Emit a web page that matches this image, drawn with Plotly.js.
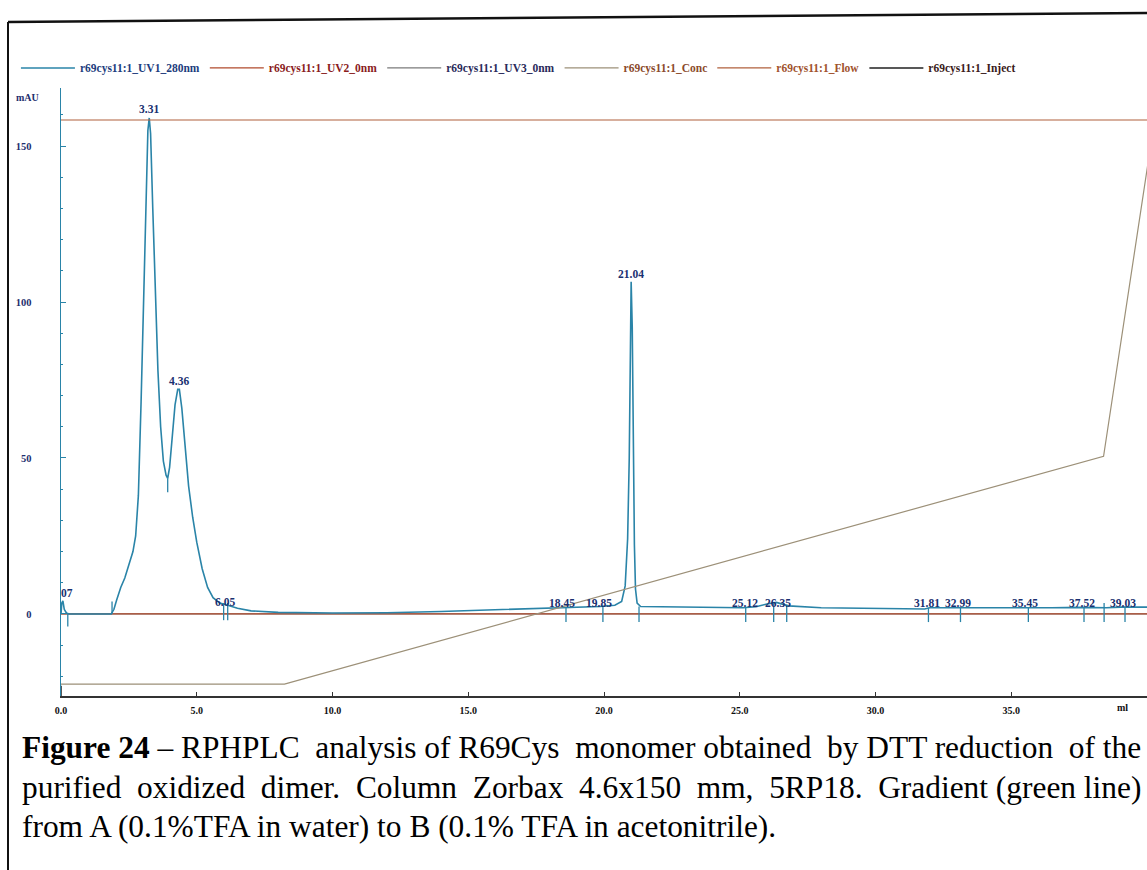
<!DOCTYPE html>
<html>
<head>
<meta charset="utf-8">
<script src="https://cdn.plot.ly/plotly-3.0.1.min.js"></script>
<style>
html,body{margin:0;padding:0;background:#fff;}
#chart{width:1147px;height:870px;}
</style>
</head>
<body>
<div id="chart"></div>
<script>
// ---- Data ----
// UV1 280 nm trace (ml, mAU)
const uvX = [0,0.03,0.07,0.12,0.2,0.3,1.85,1.95,2.05,2.2,2.35,2.5,2.65,2.75,2.85,2.95,3.05,3.13,3.2,3.25,3.3,3.38,3.47,3.57,3.67,3.77,3.87,3.93,4.0,4.1,4.2,4.3,4.36,4.45,4.55,4.7,4.85,5.0,5.2,5.4,5.6,5.85,6.05,6.5,7,8,10,12,14,16,17.5,18.45,19.2,19.85,20.4,20.65,20.78,20.87,20.93,20.97,21.0,21.04,21.08,21.12,21.16,21.22,21.35,23,25.12,25.6,26.0,26.35,26.8,28,31.81,32.0,32.99,33.5,35.45,36.5,37.52,38.5,39.03,40];
const uvY = [0,3.5,4.2,1.5,0.3,0,0,1.5,4.5,8.5,11.5,16,20,25,38,68,103,135,155,159,154,130,102,78,60,49,44.5,43.5,47,57,67,72,72,66,56,41,31,23,14.5,8.5,5.2,3.5,3,1.8,1.0,0.5,0.3,0.4,0.8,1.3,1.7,1.9,2.1,2.4,2.8,4,9,24,50,85,106.5,92,55,22,8,3.5,2.4,2.2,2.0,2.3,3.2,3.7,2.6,2.0,1.6,2.0,2.0,1.8,2.0,2.0,2.1,2.0,2.2,2.2];

// Integration / peak boundary marks (ml, top mAU, bottom mAU)
const markX   = [0.25,1.88,3.93,5.99,6.14,18.6,19.96,21.29,25.22,26.25,26.73,31.95,33.13,35.63,37.68,38.42,39.19];
const markTop = [0,4,43.5,3.5,3.5,2.2,2.6,2.4,2.2,3.8,2.8,2.0,2.2,2.2,2.2,3.5,2.4];
const markBot = [-4,0,39,-2,-2,-2.6,-2.6,-2.6,-2.6,-2.6,-2.6,-2.6,-2.6,-2.6,-2.6,-2.6,-2.6];

// Peak labels
const peakText = ['07','3.31','4.36','6.05','18.45','19.85','21.04','25.12','26.35','31.81','32.99','35.45','37.52','39.03'];
const peakX    = [0.22,3.25,4.36,6.05,18.45,19.8,21.0,25.2,26.4,31.9,33.05,35.5,37.6,39.1];
const peakY    = [6.7,161.8,74.7,3.8,3.5,3.5,108.9,3.5,3.5,3.5,3.5,3.5,3.5,3.5];

// UV2 / UV3 (0 nm, flat)
const uv2X = [0,40], uv2Y = [0,0];
const uv3X = [0,40], uv3Y = [0,0];
// Concentration of B (%)
const concX = [0,8.23,38.4,40.39];
const concY = [0,0,39,100];
// Flow (ml/min)
const flowX = [0,40], flowY = [1.0,1.0];
// Injection mark
const injX = [0,0], injY = [-26.3,-23];

// Axis ticks
const xTicks = [0,5,10,15,20,25,30,35];
const xTickText = ['0.0','5.0','10.0','15.0','20.0','25.0','30.0','35.0'];
const yTicks = [0,50,100,150];

const legendNames = ['r69cys11:1_UV1_280nm','r69cys11:1_UV2_0nm','r69cys11:1_UV3_0nm','r69cys11:1_Conc','r69cys11:1_Flow','r69cys11:1_Inject'];

// ---- Styles ----
const C = {
  uv1:'#2a84a8', uv2:'#b04a2c', uv3:'#7a7a7a', conc:'#9c9078', flow:'#b0603c', inj:'#202020',
  t1:'#1d3d7d', t2:'#8a1c1c', t3:'#2a2a5a', t4:'#8b4a2b', t5:'#a0522d', t6:'#3a1a1a'
};
const lab = (t,c)=>'<span style="color:'+c+'">'+t+'</span>';

// mark segments from arrays
const mX=[], mY=[];
markX.forEach((x,i)=>{ mX.push(x,x,null); mY.push(markTop[i],markBot[i],null); });

const traces = [
  {x:concX,y:concY,yaxis:'y2',mode:'lines',line:{color:C.conc,width:1.2},name:lab(legendNames[3],C.t4),legendrank:4},
  {x:flowX,y:flowY,yaxis:'y3',mode:'lines',line:{color:C.flow,width:1.2},name:lab(legendNames[4],C.t5),legendrank:5},
  {x:uv3X,y:uv3Y,mode:'lines',line:{color:C.uv3,width:1.2},name:lab(legendNames[2],C.t3),legendrank:3},
  {x:uv2X,y:uv2Y,mode:'lines',line:{color:C.uv2,width:1.3},name:lab(legendNames[1],C.t2),legendrank:2},
  {x:uvX,y:uvY,mode:'lines',line:{color:C.uv1,width:1.6},name:lab(legendNames[0],C.t1),legendrank:1},
  {x:mX,y:mY,mode:'lines',line:{color:C.uv1,width:1.3},showlegend:false,hoverinfo:'skip'},
  {x:injX,y:injY,mode:'lines',line:{color:C.inj,width:1.5},name:lab(legendNames[5],C.t6),legendrank:6}
];

const annotations = peakText.map((t,i)=>({
  x:peakX[i], y:peakY[i], xref:'x', yref:'y', text:t, showarrow:false,
  font:{family:'Liberation Serif',size:11.5,color:'#1a3070',weight:'bold'}, xanchor:'center', yanchor:'middle'
}));
annotations.push({x:-0.0313,y:0.9836,xref:'paper',yref:'paper',text:'mAU',showarrow:false,
  font:{family:'Liberation Serif',size:10,color:'#1e2f6e',weight:'bold'},xanchor:'center',yanchor:'middle'});
annotations.push({x:39.1,y:-0.0197,xref:'x',yref:'paper',text:'ml',showarrow:false,
  font:{family:'Liberation Serif',size:10,color:'#111',weight:'bold'},xanchor:'center',yanchor:'middle'});

const S = '\u00a0';
const capLines = [
  '<b>Figure 24</b> – RPHPLC'+S+' analysis of R69Cys'+S+' monomer obtained'+S+' by DTT reduction'+S+' of the',
  'purified'+S+' oxidized'+S+' dimer.'+S+' Column'+S+' Zorbax'+S+' 4.6x150'+S+' mm,'+S+' 5RP18.'+S+' Gradient (green line)',
  'from A (0.1%TFA in water) to B (0.1% TFA in acetonitrile).'
];
const capY = [747,787,826];
capLines.forEach((t,i)=>annotations.push({
  x:(20-61)/1086, y:(696-capY[i])/608, xref:'paper', yref:'paper', text:t, showarrow:false,
  xanchor:'left', yanchor:'middle', align:'left',
  font:{family:'Liberation Serif',size:31.4,color:'#000'}
}));

const shapes = [
  {type:'line',xref:'paper',yref:'paper',x0:(8-61)/1086,y0:(696-22)/608,x1:(1147-61)/1086,y1:(696-13)/608,line:{color:'#111',width:2.5}},
  {type:'line',xref:'paper',yref:'paper',x0:(8-61)/1086,y0:(696-22)/608,x1:(8-61)/1086,y1:(696-870)/608,line:{color:'#111',width:2}}
];

const layout = {
  width:1147, height:870,
  margin:{l:61,r:0,t:88,b:174},
  paper_bgcolor:'#fff', plot_bgcolor:'#fff',
  showlegend:true,
  legend:{orientation:'h',x:-0.0415,xanchor:'left',y:1.033,yanchor:'middle',
    font:{family:'Liberation Serif',size:11.5,weight:'bold'},itemwidth:54,bgcolor:'rgba(0,0,0,0)',
    traceorder:'normal'},
  xaxis:{range:[0,40],showgrid:false,zeroline:false,showline:true,linecolor:'#333',linewidth:1.5,
    tickmode:'array',tickvals:xTicks,ticktext:xTickText,ticks:'inside',ticklen:4,tickcolor:'#333',
    tickfont:{family:'Liberation Serif',size:10,color:'#111',weight:'bold'},ticklabelstandoff:4},
  yaxis:{range:[-26.3,168.6],showgrid:false,zeroline:false,showline:true,linecolor:C.uv1,linewidth:1.5,
    tickmode:'array',tickvals:yTicks,ticks:'inside',ticklen:5,tickcolor:C.uv1,
    minor:{dtick:10,ticks:'inside',ticklen:2,tickcolor:C.uv1},
    tickfont:{family:'Liberation Serif',size:10.5,color:'#1e2f6e',weight:'bold'},ticklabelstandoff:26},
  yaxis2:{range:[-2.05,102.05],overlaying:'y',visible:false,showgrid:false,zeroline:false},
  yaxis3:{range:[0,1.0556],overlaying:'y',visible:false,showgrid:false,zeroline:false},
  annotations:annotations,
  shapes:shapes
};

Plotly.newPlot('chart',traces,layout,{displayModeBar:false,staticPlot:true});
</script>
</body>
</html>
